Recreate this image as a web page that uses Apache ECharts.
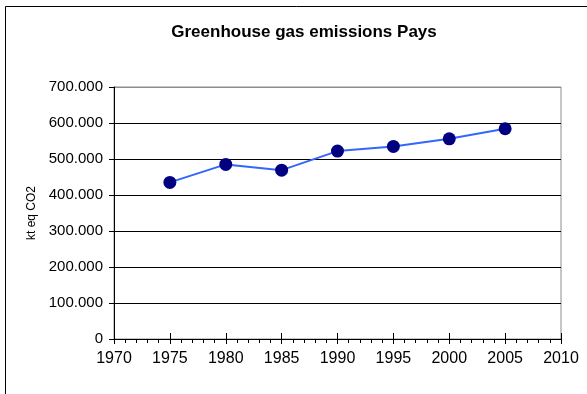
<!DOCTYPE html>
<html>
<head>
<meta charset="utf-8">
<script src="https://cdn.jsdelivr.net/npm/echarts@6/dist/echarts.min.js"></script>
<style>
  html, body { margin: 0; padding: 0; background: #fff; }
  #chart { width: 587px; height: 394px; }
</style>
</head>
<body>
<div id="chart"></div>
<script>
// Emission series (kt eq CO2)
const years = [1975, 1980, 1985, 1990, 1995, 2000, 2005];
const emissions = [435000, 485000, 469000, 522000, 535000, 556000, 584000];

const titleText = 'Greenhouse gas emissions Pays';
const yAxisName = 'kt eq CO2';

// 700000 -> "700.000"
function dotThousands(v) {
  return String(v).replace(/\B(?=(\d{3})+(?!\d))/g, '.');
}

const chart = echarts.init(document.getElementById('chart'), null, { renderer: 'canvas' });
const font = '"Liberation Sans", Arial, Helvetica, sans-serif';

chart.setOption({
  animation: false,
  backgroundColor: '#ffffff',
  title: {
    text: titleText,
    left: 299,
    top: 19,
    textAlign: 'center',
    textStyle: { fontFamily: font, fontSize: 17, fontWeight: 'bold', color: '#000' }
  },
  graphic: [{
    type: 'rect',
    shape: { x: 5.5, y: 6.5, width: 700, height: 500 },
    style: { fill: 'none', stroke: '#000', lineWidth: 1 },
    silent: true,
    z: 100
  }],
  grid: {
    left: 114, top: 87, right: 26, bottom: 55,
    show: true, borderColor: '#8c8c8c', borderWidth: 1, backgroundColor: 'transparent'
  },
  xAxis: [{
    type: 'value', min: 1970, max: 2010, interval: 5, position: 'bottom',
    axisLine: { show: true, onZero: false, lineStyle: { color: '#000', width: 1 } },
    axisTick: { show: true, inside: false, length: 5, lineStyle: { color: '#000' } },
    minorTick: { show: true, splitNumber: 5, length: 4, lineStyle: { color: '#000' } },
    axisLabel: { fontFamily: font, fontSize: 16, color: '#000', margin: 12, formatter: v => String(v) },
    splitLine: { show: false }
  }, {
    type: 'value', min: 1970, max: 2010, interval: 5, position: 'bottom',
    axisLine: { show: false, onZero: false },
    axisTick: { show: true, inside: true, length: 6, lineStyle: { color: '#000' } },
    axisLabel: { show: false },
    splitLine: { show: false }
  }],
  yAxis: {
    type: 'value', min: 0, max: 700000, interval: 100000,
    name: yAxisName,
    nameLocation: 'middle',
    nameRotate: 90,
    nameGap: 70,
    nameTextStyle: { fontFamily: font, fontSize: 12, color: '#000' },
    axisLine: { show: true, lineStyle: { color: '#000', width: 1 } },
    axisTick: { show: true, inside: false, length: 5, lineStyle: { color: '#000' } },
    axisLabel: { fontFamily: font, fontSize: 15, color: '#000', margin: 11, formatter: dotThousands },
    splitLine: {
      show: true,
      lineStyle: { color: ['#000', '#000', '#000', '#000', '#000', '#000', '#000', '#8c8c8c'], width: 1 }
    }
  },
  series: [{
    type: 'line',
    xAxisIndex: 0,
    data: years.map((y, i) => [y, emissions[i]]),
    lineStyle: { color: '#3366ff', width: 2 },
    itemStyle: { color: '#000080' },
    symbol: 'circle',
    symbolSize: 13,
    z: 3
  }]
});
</script>
</body>
</html>
